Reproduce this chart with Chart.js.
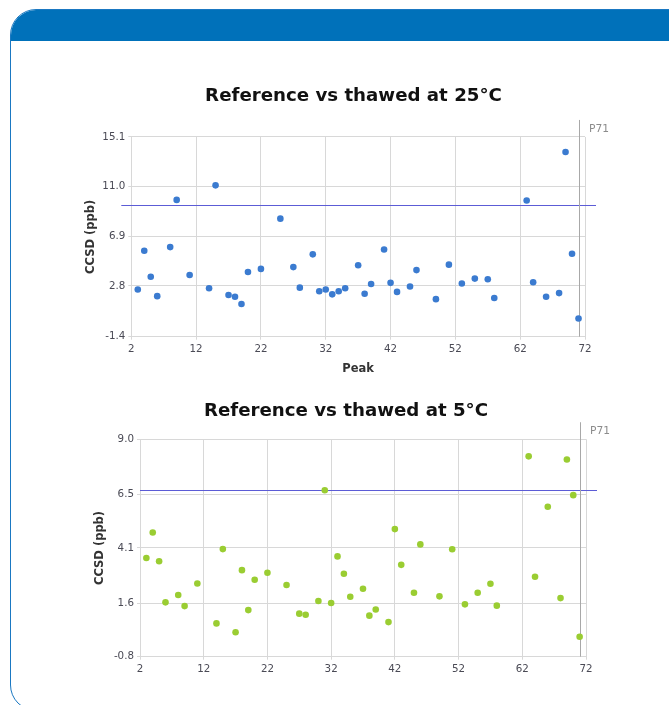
<!DOCTYPE html>
<html>
<head>
<meta charset="utf-8">
<script src="https://cdn.jsdelivr.net/npm/chart.js@4/dist/chart.umd.min.js"></script>
<style>
  html, body { margin: 0; padding: 0; background: #ffffff; }
  body { width: 669px; height: 705px; position: relative; overflow: hidden; }
  #panel { position: absolute; left: 10px; top: 9px; width: 700px; height: 700px;
           border: 1.5px solid #1a78c2; border-radius: 26px; overflow: hidden; background: #fff; }
  #header { position: absolute; left: 0; top: 0; right: 0; height: 31px; background: #0071ba; }
  .cv { position: absolute; }
  #c1 { left: 80px; top: 60px; width: 547px; height: 320px; }
  #c2 { left: 75px; top: 385px; width: 542px; height: 320px; }
</style>
</head>
<body>
<div id="panel"><div id="header"></div></div>
<div class="cv" id="c1"><canvas id="chart1"></canvas></div>
<div class="cv" id="c2"><canvas id="chart2"></canvas></div>
<script>
// ---------- data ----------
const PEAKS = [3,4,5,6,8,9,11,14,15,17,18,19,20,22,25,27,28,30,31,32,33,34,35,37,38,39,41,42,43,45,46,49,51,53,55,57,58,63,64,66,68,69,70,71];
const CCSD_25C = [2.5,5.7,3.55,1.95,6.0,9.9,3.7,2.6,11.1,2.05,1.9,1.3,3.95,4.2,8.35,4.35,2.65,5.4,2.35,2.5,2.1,2.35,2.6,4.5,2.15,2.95,5.8,3.05,2.3,2.75,4.1,1.7,4.55,3.0,3.4,3.35,1.8,9.85,3.1,1.9,2.2,13.85,5.45,0.1];
const CCSD_5C = [3.65,4.8,3.5,1.65,1.98,1.48,2.5,0.7,4.05,0.3,3.1,1.3,2.67,2.98,2.43,1.14,1.09,1.71,6.7,1.62,3.72,2.94,1.9,2.26,1.05,1.33,0.76,4.95,3.34,2.08,4.26,1.92,4.04,1.56,2.08,2.49,1.5,8.23,2.8,5.96,1.84,8.09,6.48,0.1];
const Y_TICKS_25C = [-1.4, 2.8, 6.9, 11.0, 15.1];
const Y_TICKS_5C = [-0.8, 1.6, 4.1, 6.5, 9.0];
const X_TICKS = [2, 12, 22, 32, 42, 52, 62, 72];
const LIMIT_25C = 9.47;
const LIMIT_5C = 6.7;
const MARKER_PEAK = 71;
const MARKER_LABEL = 'P71';
const TITLE_25C = 'Reference vs thawed at 25°C';
const TITLE_5C = 'Reference vs thawed at 5°C';
const X_TITLE = 'Peak';
const Y_TITLE = 'CCSD (ppb)';

// ---------- styling ----------
const FONT = "'DejaVu Sans', Verdana, sans-serif";
Chart.defaults.font.family = FONT;
const GRID = '#d8d8d8';
const TICK_COLOR = '#4a4a55';

const refLines = {
  id: 'refLines',
  beforeDatasetsDraw(chart, args, o) {
    const { ctx, chartArea: a, scales: { x, y } } = chart;
    ctx.save();
    ctx.lineWidth = 1;
    // limit line
    const ty = Math.round(y.getPixelForValue(o.limit)) + 0.5;
    ctx.strokeStyle = o.limitColor;
    ctx.beginPath();
    ctx.moveTo(a.left - o.extendLeft, ty);
    ctx.lineTo(a.right + o.extendRight, ty);
    ctx.stroke();
    // vertical marker
    const mx = Math.round(x.getPixelForValue(o.marker)) + 0.5;
    ctx.strokeStyle = o.markerColor;
    ctx.beginPath();
    ctx.moveTo(mx, a.top - o.markerAbove);
    ctx.lineTo(mx, a.bottom);
    ctx.stroke();
    ctx.fillStyle = o.labelColor;
    ctx.font = '10.7px ' + FONT;
    ctx.textBaseline = 'middle';
    ctx.textAlign = 'left';
    ctx.fillText(o.markerLabel, mx + 9.5, a.top - 8);
    ctx.restore();
  }
};

function makeChart(id, cfg) {
  const pts = PEAKS.map((p, i) => ({ x: p, y: cfg.values[i] }));
  return new Chart(document.getElementById(id), {
    type: 'scatter',
    data: { datasets: [{ data: pts, backgroundColor: cfg.color, borderColor: cfg.color,
                         pointRadius: 3.3, pointHoverRadius: 3.3, borderWidth: 0 }] },
    plugins: [refLines],
    options: {
      responsive: true, maintainAspectRatio: false, animation: false,
      layout: { padding: 0 },
      plugins: {
        legend: { display: false },
        tooltip: { enabled: false },
        title: { display: true, text: cfg.title, color: '#111',
                 font: { size: 18.2, weight: 'bold', family: FONT },
                 padding: { top: cfg.titleTop, bottom: cfg.titleBottom } },
        refLines: { marker: MARKER_PEAK, markerLabel: MARKER_LABEL, markerColor: '#a8a8a8',
                    markerAbove: 17, labelColor: '#8c8c8c', limit: cfg.limit,
                    limitColor: '#5c5cd6', extendLeft: cfg.extendLeft, extendRight: 11 }
      },
      scales: {
        x: {
          type: 'linear', min: X_TICKS[0], max: X_TICKS[X_TICKS.length - 1],
          afterBuildTicks: s => { s.ticks = X_TICKS.map(v => ({ value: v })); },
          afterFit: s => { s.height = cfg.xHeight; },
          grid: { color: GRID, tickLength: 3, tickColor: GRID },
          border: { color: GRID },
          ticks: { color: TICK_COLOR, padding: 3, font: { size: 10.3 }, maxRotation: 0,
                   callback: v => String(v) },
          title: { display: cfg.showXTitle, text: X_TITLE, color: '#333',
                   font: { size: 11.5, weight: 'bold' }, padding: { top: 0, bottom: cfg.xTitleBottom } }
        },
        y: {
          type: 'linear', min: cfg.yTicks[0], max: cfg.yTicks[cfg.yTicks.length - 1],
          afterBuildTicks: s => { s.ticks = cfg.yTicks.map(v => ({ value: v })); },
          afterFit: s => { s.width = cfg.yWidth; },
          grid: { color: GRID, tickLength: 3, tickColor: GRID },
          border: { color: GRID },
          ticks: { color: TICK_COLOR, padding: 3, font: { size: 10.3 },
                   callback: v => Number(v).toFixed(1) },
          title: { display: true, text: Y_TITLE, color: '#333',
                   font: { size: 11.5, weight: 'bold' }, padding: { top: cfg.yTitleTop, bottom: 0 } }
        },
        // empty right-hand spacer scale (keeps the title centred on the whole canvas)
        ySpacer: {
          type: 'linear', position: 'right', display: true,
          grid: { display: false, drawTicks: false }, border: { display: false },
          ticks: { display: false }, title: { display: false },
          afterFit: s => { s.width = cfg.padRight; }
        }
      }
    }
  });
}

makeChart('chart1', {
  values: CCSD_25C, color: '#3b7bd0', title: TITLE_25C, yTicks: Y_TICKS_25C, limit: LIMIT_25C,
  padRight: 42, titleTop: 25.4, titleBottom: 29.7, xHeight: 43.3, yWidth: 51.3,
  showXTitle: true, xTitleBottom: 4.1, yTitleTop: 4.1, extendLeft: 10
});
makeChart('chart2', {
  values: CCSD_5C, color: '#9acd32', title: TITLE_5C, yTicks: Y_TICKS_5C, limit: LIMIT_5C,
  padRight: 31, titleTop: 15.4, titleBottom: 17, xHeight: 48.3, yWidth: 65,
  showXTitle: false, xTitleBottom: 0, yTitleTop: 18.6, extendLeft: 0
});
</script>
</body>
</html>
